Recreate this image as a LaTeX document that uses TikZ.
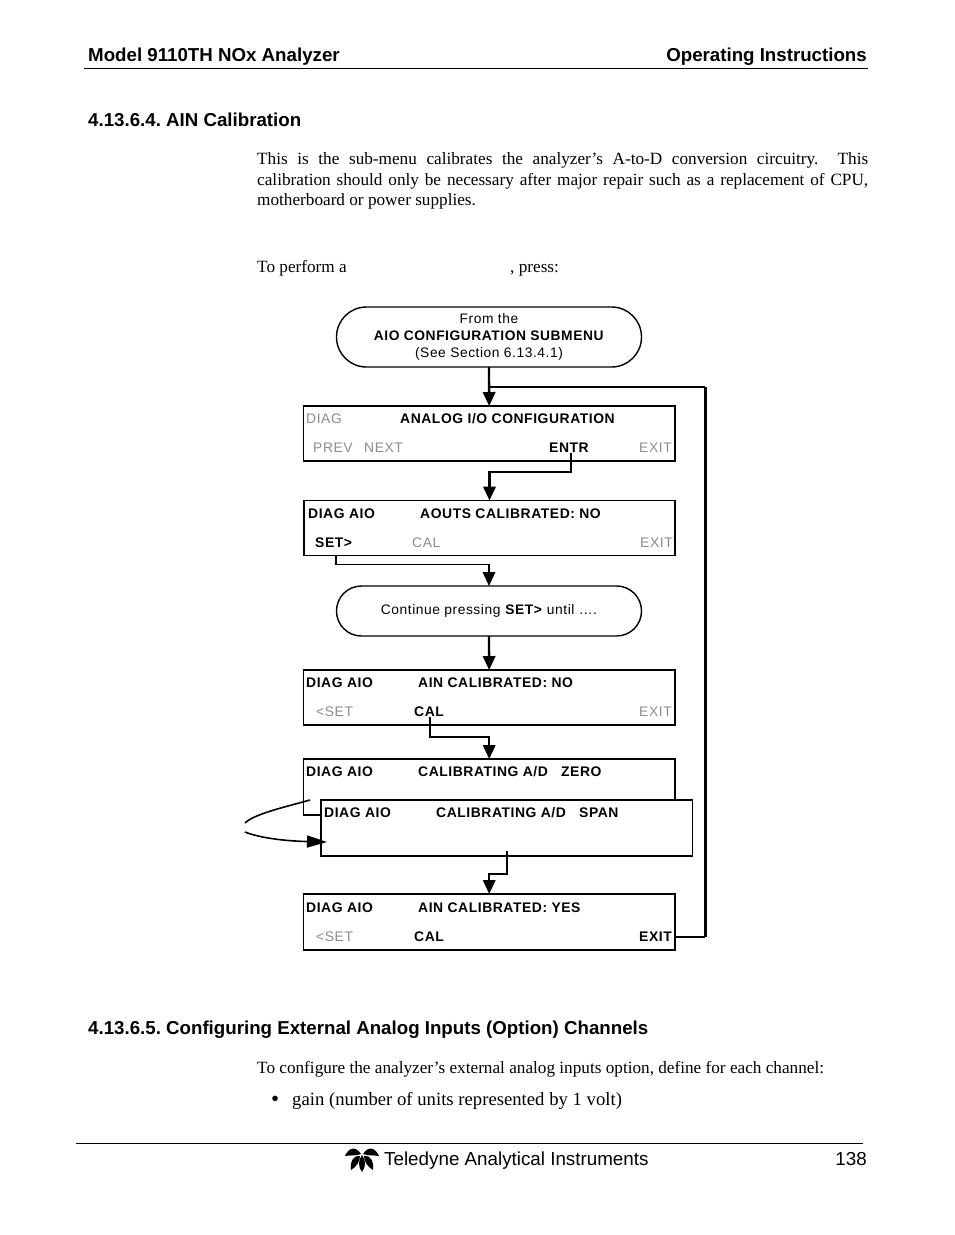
\documentclass[tikz,border=0pt]{standalone}
\usepackage{fontspec}
\setmainfont{Liberation Serif}
\setsansfont{Liberation Sans}
\newfontfamily\panelfont[LetterSpace=4]{Liberation Sans}
\usetikzlibrary{arrows.meta}
\definecolor{dimtext}{gray}{0.55}
\frenchspacing
\begin{document}
\begin{tikzpicture}[x=1pt, y=-1pt,
    pagehead/.style={inner sep=0pt, font=\sffamily\bfseries\fontsize{18.7}{20}\selectfont},
    bodytext/.style={inner sep=0pt, anchor=base west, font=\rmfamily\fontsize{17.2}{20.5}\selectfont},
    foottext/.style={inner sep=0pt, font=\sffamily\fontsize{18.8}{20}\selectfont},
    screen/.style={draw, line width=1.3pt, fill=white, rectangle, minimum width=371.5pt, minimum height=55pt, outer sep=0pt},
    pill/.style={draw, line width=1.4pt, rectangle, minimum width=305pt, outer sep=0pt, align=center, font=\panelfont\fontsize{13.8}{16.7}\selectfont},
    keyon/.style={inner sep=0pt, anchor=west, yshift=-0.7pt, font=\panelfont\bfseries\fontsize{13.9}{15}\selectfont},
    keyoff/.style={inner sep=0pt, anchor=west, yshift=-0.7pt, text=dimtext, font=\panelfont\fontsize{13.9}{15}\selectfont},
    flow/.style={line width=2.3pt, -{Triangle[length=14pt, width=12.5pt]}},
    thinflow/.style={line width=1.9pt, -{Triangle[length=14pt, width=12.5pt]}},
    petal/.style={fill=black, draw=none}]
    \useasboundingbox (0,0) rectangle (954,1235);

    % page text
    \node[pagehead, anchor=base west] (headl) at (88,61) {Model 9110TH NOx Analyzer};
    \node[pagehead, anchor=base east] (headr) at (867,61) {Operating Instructions};
    \draw[line width=1pt] (84,68) -- (868,68);
    \node[pagehead, anchor=base west] (secta) at (88,126) {4.13.6.4. AIN Calibration};
    \node[bodytext, anchor=west, text width=611pt, align=justify] (para) at (257,181) {This is the sub-menu calibrates the analyzer’s A-to-D conversion circuitry.\ \ This\linebreak calibration should only be necessary after major repair such as a replacement of CPU,\linebreak motherboard or power supplies.};
    \node[bodytext] (perfa) at (257,272) {To perform a};
    \node[bodytext] (perfb) at (510,272) {, press:};

    % screens
    \node[pill, rounded corners=29.9pt, minimum height=60pt] (start) at (489,337) {From the\\\textbf{AIO CONFIGURATION SUBMENU}\\(See Section 6.13.4.1)};

    \node[screen] (s1) at (489.2,433.5) {};
    \node[keyoff] (s1a) at (306,418) {DIAG};
    \node[keyon] (s1b) at (400,418) {ANALOG I/O CONFIGURATION};
    \node[keyoff] (s1c) at (313,447) {PREV};
    \node[keyoff] (s1d) at (364,447) {NEXT};
    \node[keyon] (s1e) at (549,447) {ENTR};
    \node[keyoff] (s1f) at (639,447) {EXIT};

    \node[screen, minimum width=371pt] (s2) at (489.5,528) {};
    \node[keyon] (s2a) at (308,513) {DIAG AIO};
    \node[keyon] (s2b) at (420,513) {AOUTS CALIBRATED: NO};
    \node[keyon] (s2c) at (315,542) {SET>};
    \node[keyoff] (s2d) at (412,542) {CAL};
    \node[keyoff] (s2e) at (640,542) {EXIT};

    \node[pill, rounded corners=24.9pt, minimum height=50pt] (cont) at (489,611) {Continue pressing \textbf{SET>} until ….};

    \node[screen] (s3) at (489.2,697.5) {};
    \node[keyon] (s3a) at (306,682) {DIAG AIO};
    \node[keyon] (s3b) at (418,682) {AIN CALIBRATED: NO};
    \node[keyoff] (s3c) at (316,711) {<SET};
    \node[keyon] (s3d) at (414,711) {CAL};
    \node[keyoff] (s3e) at (639,711) {EXIT};

    \node[screen, minimum height=56pt] (s4) at (489.2,787) {};
    \node[keyon] (s4a) at (306,771) {DIAG AIO};
    \node[keyon] (s4b) at (418,771) {CALIBRATING A/D\ \ \ ZERO};

    \node[screen, line width=1.5pt, minimum height=56pt] (s5) at (506.5,828) {};
    \node[keyon] (s5a) at (324,812) {DIAG AIO};
    \node[keyon] (s5b) at (436,812) {CALIBRATING A/D\ \ \ SPAN};

    \node[screen, minimum height=56pt] (s6) at (489.2,922) {};
    \node[keyon] (s6a) at (306,907) {DIAG AIO};
    \node[keyon] (s6b) at (418,907) {AIN CALIBRATED: YES};
    \node[keyoff] (s6c) at (316,936) {<SET};
    \node[keyon] (s6d) at (414,936) {CAL};
    \node[keyon] (s6e) at (639,936) {EXIT};

    % connectors
    \coordinate (join) at (489,387);
    \coordinate (rise) at (705,387);
    \coordinate (back) at (705,936.7);
    \coordinate (spanout) at (507,851);
    \coordinate (loopa) at (310,800);
    \coordinate (loopb) at (245,823);
    \coordinate (loopc) at (245,832);
    \coordinate (loopd) at (327,842);
    \draw[flow] (start) -- (s1);
    \draw[line width=1.8pt] (join) -- (rise);
    \draw[line width=3pt] (rise) -- (back);
    \draw[line width=1.8pt] (back) -- (s6e.east -| s6.east);
    \draw[flow] (s1e.south -| 571,0) -- ++(0,19) -| (s2);
    \draw[thinflow] (s2.south -| 336,0) -- ++(0,9) -| (cont);
    \draw[flow] (cont) -- (s3);
    \draw[thinflow] (s3d.south -| 430,0) -- ++(0,20) -| (s4);
    \draw[thinflow] (spanout) -- ++(0,23) -| (s6);
    \draw[line width=1.6pt] (loopa) .. controls (285,807) and (254,814) .. (loopb);
    \draw[line width=1.6pt, -{Triangle[length=20pt, width=12pt]}] (loopc) .. controls (260,838) and (285,841) .. (loopd);

    % lower text
    \node[pagehead, anchor=base west] (sectb) at (88,1034) {4.13.6.5. Configuring External Analog Inputs (Option) Channels};
    \node[bodytext] (conf) at (257,1073) {To configure the analyzer’s external analog inputs option, define for each channel:};
    \node[bodytext, font=\rmfamily\fontsize{23}{24}\selectfont] (bull) at (271,1106.5) {•};
    \node[bodytext, font=\rmfamily\fontsize{18.7}{20}\selectfont] (gain) at (292,1105) {gain (number of units represented by 1 volt)};

    % footer
    \draw[line width=1pt] (76,1143) -- (863,1143);
    \fill[petal] (361,1154) .. controls (356,1146) and (349,1147) .. (345,1156) .. controls (350,1155) and (356,1156) .. cycle;
    \fill[petal] (363,1154) .. controls (368,1146) and (375,1147) .. (379,1156) .. controls (374,1155) and (368,1156) .. cycle;
    \fill[petal] (360,1156) .. controls (353,1155) and (350,1162) .. (351,1170) .. controls (356,1167) and (360,1162) .. cycle;
    \fill[petal] (364,1156) .. controls (371,1155) and (374,1162) .. (373,1170) .. controls (368,1167) and (364,1162) .. cycle;
    \fill[petal] (362,1155) .. controls (358,1160) and (358,1167) .. (362,1172) .. controls (366,1167) and (366,1160) .. cycle;
    \node[foottext, anchor=base west] (footl) at (384,1165) {Teledyne Analytical Instruments};
    \node[foottext, anchor=base east] (footr) at (867,1165) {138};
\end{tikzpicture}
\end{document}
